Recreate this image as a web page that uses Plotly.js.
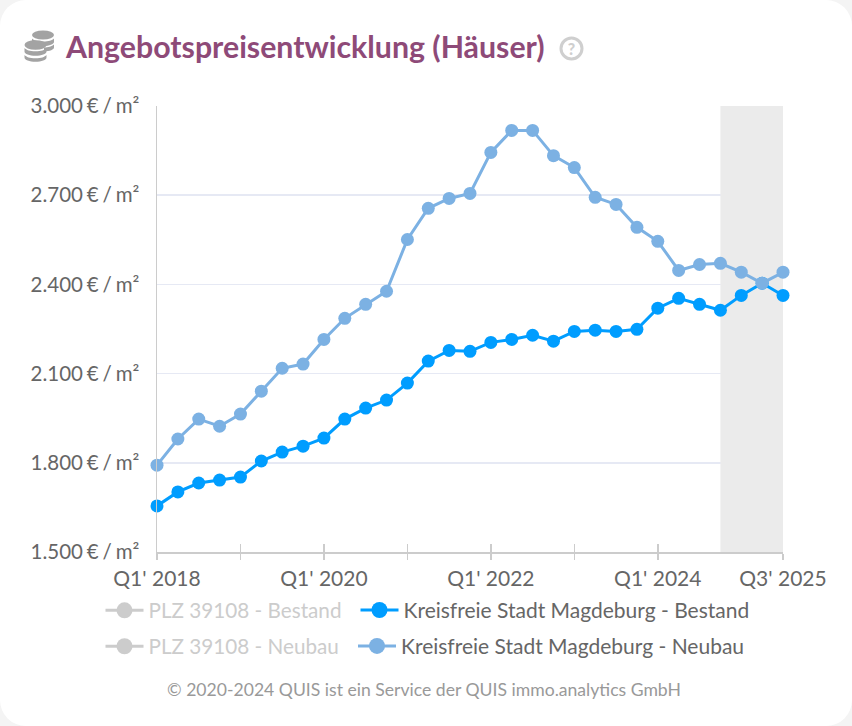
<!DOCTYPE html>
<html><head><meta charset="utf-8">
<script src="https://cdn.plot.ly/plotly-3.0.1.min.js"></script>
<style>
html,body{margin:0;padding:0;background:#f4f4f4;width:852px;height:726px;overflow:hidden}
#card{position:absolute;left:0;top:0;width:852px;height:726px;background:#fff;border-radius:26px}
#chart{position:absolute;left:0;top:0;width:852px;height:726px}
svg.ic{position:absolute;z-index:5}
.ytick text{word-spacing:-1.4px}
</style></head><body>
<div id="card"></div><div id="chart"></div>
<svg class="ic" style="left:23px;top:30px" width="33" height="32" viewBox="0 0 33 32">
<g fill="#a3a3a3"><ellipse cx="20" cy="5" rx="11" ry="4.6"/><path d="M9 8.5c2 2 5 3 11 3s9-1 11-3v3.500c0 2-5 4-10 4h-2c-1-2-4-3-10-3.500z"/><path d="M21 17.500c4 0 8-1 10-3v3c0 2-4 3.800-10 4z"/>
<ellipse cx="12.500" cy="15" rx="11" ry="4.800"/><path d="M1.500 18c2 2 5 3.300 11 3.300s9-1.300 11-3.300v3.500c0 2.500-5 4.300-11 4.300s-11-1.800-11-4.300z"/><path d="M1.500 25c2 2 5 3.300 11 3.300s9-1.300 11-3.300v2.500c0 2.500-5 4.300-11 4.300s-11-1.800-11-4.300z"/></g></svg>
<svg class="ic" style="left:559px;top:36px" width="25" height="25" viewBox="0 0 25 25">
<circle cx="12.500" cy="12.500" r="10.500" fill="none" stroke="#cfcfcf" stroke-width="3"/>
<text x="12.500" y="18.500" text-anchor="middle" font-family="Lato" font-weight="900" font-size="16" fill="#cfcfcf">?</text></svg>
<script>
const quarters = ["Q1 2018","Q2 2018","Q3 2018","Q4 2018","Q1 2019","Q2 2019","Q3 2019","Q4 2019","Q1 2020","Q2 2020","Q3 2020","Q4 2020","Q1 2021","Q2 2021","Q3 2021","Q4 2021","Q1 2022","Q2 2022","Q3 2022","Q4 2022","Q1 2023","Q2 2023","Q3 2023","Q4 2023","Q1 2024","Q2 2024","Q3 2024","Q4 2024","Q1 2025","Q2 2025","Q3 2025"];
const bestand = [1655,1702,1732,1742,1752,1806,1836,1856,1883,1947,1984,2011,2068,2142,2178,2175,2205,2215,2229,2209,2242,2246,2242,2249,2320,2353,2333,2313,2363,2404,2363];
const neubau = [1792,1880,1947,1923,1964,2041,2118,2132,2215,2286,2333,2377,2551,2656,2689,2706,2844,2918,2918,2833,2793,2693,2669,2592,2545,2447,2467,2471,2441,2404,2441];
const noValues = quarters.map(()=>null);
const xIndex = quarters.map((_,i)=>i);
const majorTicks = [0,8,16,24,30];
const majorLabels = ["Q1' 2018","Q1' 2020","Q1' 2022","Q1' 2024","Q3' 2025"];
const minorTicks = [4,12,20];
const yTicks = [1500,1800,2100,2400,2700,3000];
const yLabels = ["1.500 € / m²","1.800 € / m²","2.100 € / m²","2.400 € / m²","2.700 € / m²","3.000 € / m²"];
const forecastStart = 27, forecastEnd = 30;
const F = "Lato, sans-serif";
const leg = (x,y,color,size)=>({x:x,y:y,xref:'paper',yref:'paper',xanchor:'left',yanchor:'middle',orientation:'v',
  bgcolor:'rgba(0,0,0,0)',borderwidth:0,itemwidth:38,itemsizing:'trace',font:{family:F,size:size,color:color}});
const W=626,H=447,L=157,T=105.5;
const px=v=>(v-L)/W, py=v=>1-(v-T)/H;
const legendEntry=(name,legend,color)=>({name:name,x:xIndex,y:noValues,mode:'lines+markers',legend:legend,line:{color:color,width:3},marker:{color:color,size:16}});
const dataTrace=(name,y,color)=>({name:name,x:xIndex,y:y,mode:'lines+markers',showlegend:false,cliponaxis:false,line:{color:color,width:3},marker:{color:color,size:13}});
const traces=[
 dataTrace('Kreisfreie Stadt Magdeburg - Bestand',bestand,'#009dff'),
 dataTrace('Kreisfreie Stadt Magdeburg - Neubau',neubau,'#7cb1e3'),
 legendEntry('PLZ 39108 - Bestand','legend','#cccccc'),
 legendEntry('Kreisfreie Stadt Magdeburg - Bestand','legend2','#009dff'),
 legendEntry('PLZ 39108 - Neubau','legend3','#cccccc'),
 legendEntry('Kreisfreie Stadt Magdeburg - Neubau','legend4','#7cb1e3'),
 {x:xIndex,y:noValues,xaxis:'x2',showlegend:false,mode:'lines',hoverinfo:'skip'}
];
const layout={
 width:852,height:726,margin:{l:L,r:69,t:T,b:173.5},autosize:false,
 paper_bgcolor:'rgba(0,0,0,0)',plot_bgcolor:'rgba(0,0,0,0)',
 font:{family:F,size:21,color:'#666666'},showlegend:true,hovermode:false,
 title:{text:'<b>Angebotspreisentwicklung (Häuser)</b>',font:{family:F,size:30.3,color:'#8e4a78'},x:66/852,xanchor:'left',xref:'container',y:1-47/726,yanchor:'middle',yref:'container'},
 xaxis:{type:'linear',range:[0,30],tickmode:'array',tickvals:majorTicks,ticktext:majorLabels,ticks:'outside',ticklen:6,tickcolor:'#cccccc',tickwidth:1.500,
   showgrid:false,zeroline:false,showline:true,linecolor:'#cccccc',linewidth:1.500,tickfont:{family:F,size:21,color:'#666666'},ticklabelstandoff:1,
   minor:{tickmode:'array',tickvals:minorTicks,ticks:'outside',ticklen:6,tickcolor:'#cccccc',tickwidth:1.500,showgrid:false}},
 xaxis2:{type:'linear',range:[0,30],overlaying:'x',anchor:'y',side:'bottom',tickmode:'array',tickvals:majorTicks.concat(minorTicks),ticktext:majorTicks.concat(minorTicks).map(()=>''),ticks:'inside',ticklen:8,tickcolor:'#cccccc',tickwidth:1.500,showgrid:false,zeroline:false,showline:false},
 yaxis:{range:[1500,3000],tickmode:'array',tickvals:yTicks,ticktext:yLabels,ticks:'',showgrid:true,gridcolor:'#e6e9f4',gridwidth:1.500,zeroline:false,showline:true,linecolor:'#cccccc',linewidth:1.500,tickfont:{family:F,size:20.5,color:'#666666'},ticklabelstandoff:12},
 shapes:[{type:'rect',xref:'x',yref:'y',x0:forecastStart,x1:forecastEnd,y0:1500,y1:3000,fillcolor:'#ebebeb',line:{width:0},layer:'between'}],
 annotations:[{xref:'paper',yref:'paper',x:px(423.5),y:py(690),xanchor:'center',yanchor:'middle',showarrow:false,text:'© 2020-2024 QUIS ist ein Service der QUIS immo.analytics GmbH',font:{family:F,size:17.6,color:'#999999'}}],
 legend:leg(px(100.5),py(611),'#cccccc',20.7),
 legend2:leg(px(355.5),py(611),'#666666',21),
 legend3:leg(px(100.5),py(647),'#cccccc',20.7),
 legend4:leg(px(353),py(647),'#666666',21)
};
Plotly.newPlot('chart',traces,layout,{displayModeBar:false,staticPlot:true});
</script></body></html>
